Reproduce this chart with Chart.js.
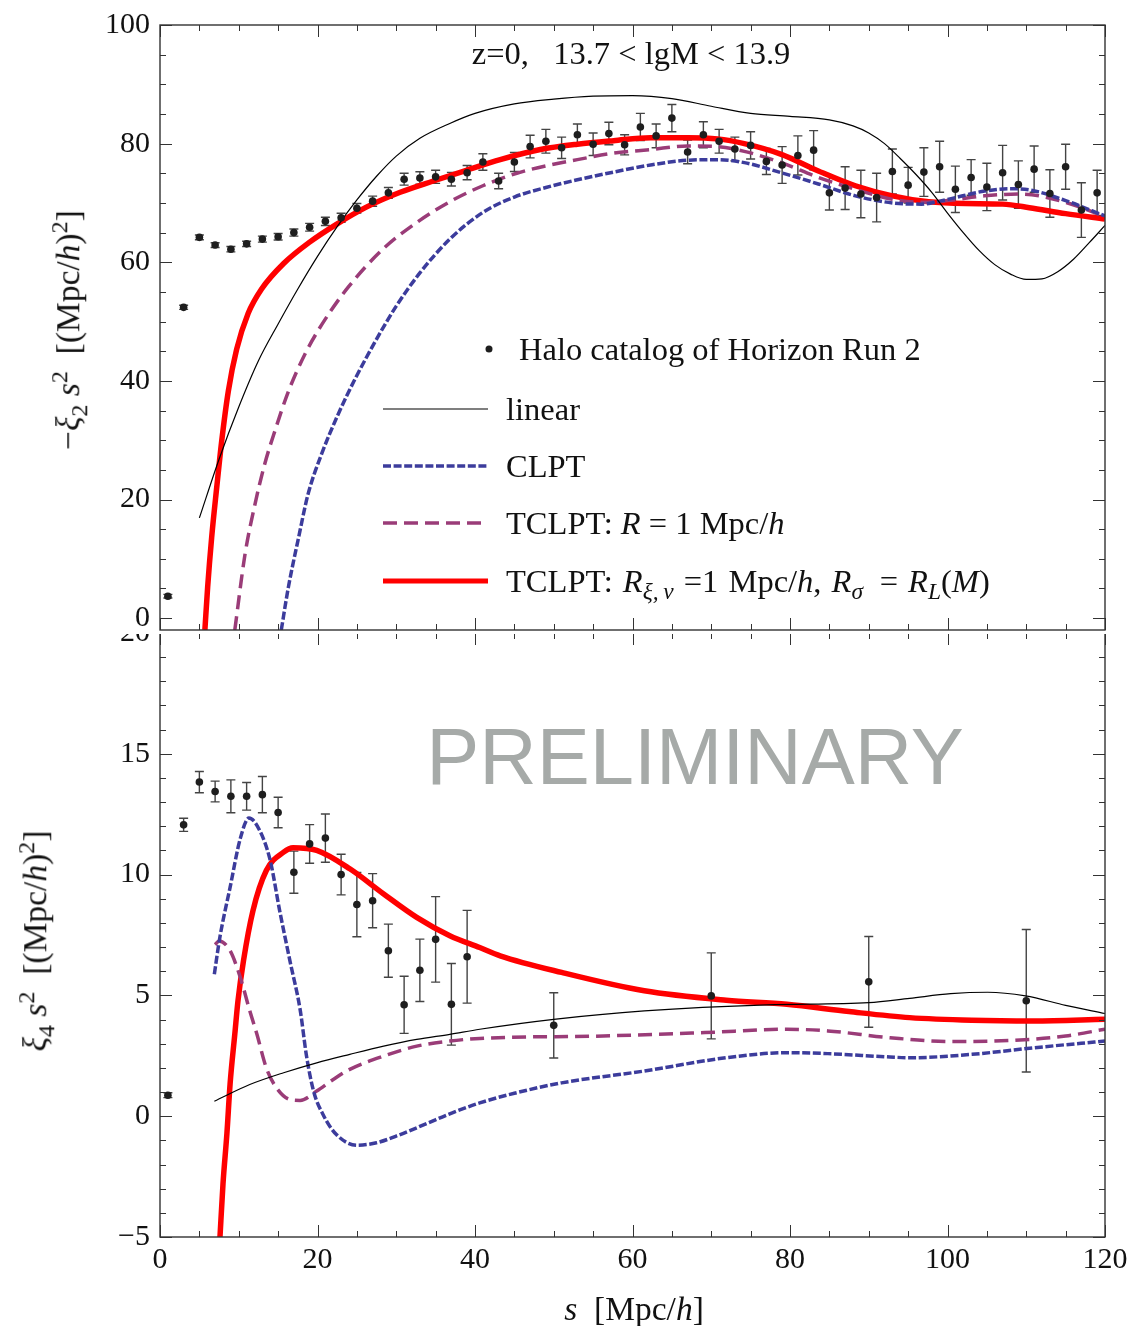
<!DOCTYPE html>
<html>
<head>
<meta charset="utf-8">
<script src="https://cdn.jsdelivr.net/npm/chart.js@4.4.1/dist/chart.umd.min.js"></script>
<style>
  body { margin: 0; background: #fff; }
  #wrap { position: relative; width: 1132px; height: 1326px; background: #fff; overflow: hidden;
          font-family: "Liberation Serif", "Times New Roman", serif; color: #111; }
  canvas { position: absolute; left: 0; }
  #topCanvas { top: 0; z-index: 2; background: #fff; }
  #botCanvas { top: 600px; z-index: 1; }
  .txt { position: absolute; white-space: nowrap; z-index: 3; line-height: 1; }
  .txt sub, .txt sup { font-size: 72%; line-height: 0; }
  .rot { transform: translate(-50%, -50%) rotate(-90deg); }
  .ctr { transform: translate(-50%, -50%); }
  .lft { transform: translateY(-50%); }
  .leg { font-size: 32.5px; }
  .ax { font-size: 33.5px; }
</style>
</head>
<body>
<div id="wrap">
  <canvas id="topCanvas" width="1132" height="634"></canvas>
  <canvas id="botCanvas" width="1132" height="726"></canvas>

  <div class="txt ctr" style="left:631px; top:53px; font-size:32.5px;">z=0,&nbsp;&nbsp;&nbsp;13.7 &lt; lgM &lt; 13.9</div>

  <div class="txt lft leg" style="left:519px; top:349px;">Halo catalog of Horizon Run 2</div>
  <div class="txt lft leg" style="left:506px; top:409px;">linear</div>
  <div class="txt lft leg" style="left:506px; top:466px;">CLPT</div>
  <div class="txt lft leg" style="left:506px; top:523px;">TCLPT: <i>R</i> = 1 Mpc/<i>h</i></div>
  <div class="txt lft leg" style="left:506px; top:581px; word-spacing:2px;">TCLPT: <i>R</i><sub><i>ξ,&thinsp;v</i></sub>&nbsp;=1 Mpc/<i>h</i>, <i>R</i><sub><i>σ</i></sub>&thinsp; = <i>R</i><sub><i>L</i></sub>(<i>M</i>)</div>

  <div class="txt ctr" style="left:695px; top:757px; font-size:79.5px; font-family:'Liberation Sans', Arial, sans-serif; color:#a6aaa8;">PRELIMINARY</div>

  <div class="txt rot ax" style="left:68px; top:330px;">−<i>ξ</i><sub>2</sub> <i>s</i><sup>2</sup>&nbsp;&nbsp;[(Mpc/<i>h</i>)<sup>2</sup>]</div>
  <div class="txt rot ax" style="left:35px; top:941px;"><i>ξ</i><sub>4</sub> <i>s</i><sup>2</sup>&nbsp;&nbsp;[(Mpc/<i>h</i>)<sup>2</sup>]</div>
  <div class="txt ctr ax" style="left:634px; top:1309px;"><i>s</i>&nbsp;&nbsp;[Mpc/<i>h</i>]</div>
</div>

<script>
// ---------- top panel: -xi_2 s^2 ----------
const sTop = [1, 3, 5, 7, 9, 11, 13, 15, 17, 19, 21, 23, 25, 27, 29, 31, 33, 35, 37, 39,
              41, 43, 45, 47, 49, 51, 53, 55, 57, 59, 61, 63, 65, 67, 69, 71, 73, 75, 77, 79,
              81, 83, 85, 87, 89, 91, 93, 95, 97, 99, 101, 103, 105, 107, 109, 111, 113, 115, 117, 119];
const haloTop = [3.7, 52.4, 64.2, 62.9, 62.2, 63.1, 63.9, 64.3, 65.0, 65.9, 66.9, 67.5, 69.1, 70.3, 71.7, 74.0, 74.2, 74.4, 74.0, 75.1,
                 76.9, 73.7, 76.9, 79.5, 80.4, 79.3, 81.5, 79.9, 81.7, 79.8, 82.8, 81.3, 84.3, 78.6, 81.5, 80.4, 79.1, 79.7, 77.0, 76.4,
                 78.0, 78.9, 71.7, 72.5, 71.5, 70.9, 75.3, 73.0, 75.2, 76.1, 72.3, 74.3, 72.7, 75.1, 73.1, 75.7, 71.6, 76.1, 68.8, 71.7];
const haloTopErr = [0.3, 0.35, 0.4, 0.4, 0.45, 0.45, 0.5, 0.55, 0.6, 0.65, 0.7, 0.75, 0.8, 0.85, 0.9, 1.0, 1.05, 1.1, 1.15, 1.2,
                    1.4, 1.3, 1.6, 1.9, 2.0, 1.8, 1.8, 1.9, 1.9, 1.7, 2.3, 2.0, 2.3, 2.0, 2.2, 2.0, 2.0, 2.3, 2.2, 3.1,
                    3.3, 3.3, 2.9, 3.6, 4.0, 4.1, 3.8, 3.0, 4.1, 4.3, 3.9, 3.0, 4.0, 4.6, 4.0, 3.9, 4.0, 3.8, 4.6, 3.8];

const linearTop = [[5, 16.9], [7.5, 26.8], [10, 35.6], [12.5, 43.4], [15, 49.6], [17.5, 55.5], [20, 61], [22.5, 66],
                   [25, 70.5], [27.5, 74.5], [30, 77.9], [33, 80.9], [36.8, 83.4], [40, 85.1], [45, 86.7], [50, 87.5],
                   [55, 88], [60, 88.1], [65, 87.6], [70, 86.3], [75, 85.1], [80, 84.6], [85, 84.0], [88, 83.0],
                   [90, 81.8], [92, 80.0], [94, 77.5], [96, 74.8], [98, 71.8], [100, 68.3], [102, 65.0], [104, 62.0],
                   [106, 59.6], [108, 58.0], [110, 57.1], [112, 57.2], [114, 58.4], [116, 60.5], [118, 63.3], [120, 66.2]];
const clptTop = [[15.4, -2], [16.3, 5.2], [17.6, 13.6], [18.8, 20.9], [20.5, 27.6], [22.6, 34.3], [24.8, 40.4],
                 [27.7, 47.5], [30, 52.6], [33, 58.2], [36.8, 63.9], [41, 68.4], [45, 71.0], [49, 72.6], [53, 73.9],
                 [57.6, 75.2], [62.3, 76.4], [67, 77.2], [70.8, 77.3], [74.2, 76.8], [78.9, 75.1], [83.6, 73.2],
                 [88.3, 71.2], [93, 70.0], [96.7, 69.8], [100, 70.6], [104.7, 72.0], [108, 72.4], [110.8, 72.1],
                 [115, 70.4], [120, 67.8]];
const tclptTop = [[9.5, -2], [10.8, 10.8], [12.06, 19.2], [13.3, 26.0], [14.6, 31.6], [16.3, 38.2], [18.4, 44.5],
                  [20.5, 49.4], [23.9, 55.8], [28.3, 62.2], [32.6, 66.7], [36.8, 70.2], [41, 72.9], [45.3, 75.0],
                  [49.5, 76.4], [53, 77.3], [57.6, 78.4], [62.3, 79.0], [67, 79.6], [70.8, 79.5], [74.2, 78.7],
                  [78.9, 76.8], [83.6, 74.3], [88.3, 72.3], [93, 70.6], [96.7, 70.1], [100, 70.4], [104.7, 71.2],
                  [109.3, 71.5], [115, 70.1], [120, 67.7]];
const tclptRLTop = [[5.7, -2], [6.05, 5.2], [6.56, 13.6], [7.2, 22], [7.83, 29.8], [8.68, 38.3], [9.73, 45.3],
                    [11.2, 51.4], [12.9, 55.5], [15.7, 59.8], [19, 63.4], [22.4, 66.4], [26.2, 69.3], [30.5, 71.8],
                    [34.7, 73.7], [38.9, 75.5], [43.2, 77.3], [48.3, 79.0], [53, 79.9], [57.6, 80.5], [62.3, 81.0],
                    [67, 81.0], [70.8, 80.8], [74.2, 80.0], [78.9, 78.2], [83.6, 75.4], [88.3, 72.9], [93, 71.2],
                    [97.6, 70.2], [102.3, 69.9], [107, 69.8], [110.4, 69.2], [115, 68.2], [120, 67.3]];

// ---------- bottom panel: xi_4 s^2 ----------
const sBot = [1, 3, 5, 7, 9, 11, 13, 15, 17, 19, 21, 23, 25, 27, 29, 31, 33, 35, 37, 39, 50, 70, 90, 110];
const haloBot = [0.87, 12.06, 13.83, 13.44, 13.24, 13.24, 13.31, 12.57, 10.10, 11.27, 11.51, 10.0, 8.76, 8.92,
                 6.85, 4.61, 6.04, 7.32, 4.63, 6.60, 3.76, 4.98, 5.56, 4.78];
const haloBotErr = [0.1, 0.27, 0.44, 0.43, 0.68, 0.57, 0.75, 0.63, 0.87, 0.8, 1.0, 0.84, 1.33, 1.12,
                    1.1, 1.18, 1.29, 1.77, 1.69, 1.92, 1.35, 1.78, 1.88, 2.95];

const linearBot = [[6.9, 0.62], [11.4, 1.31], [15.7, 1.8], [19.9, 2.21], [24.1, 2.56], [28.4, 2.9], [32.6, 3.18],
                   [36.8, 3.39], [40.6, 3.6], [50, 4.01], [61.5, 4.36], [77.1, 4.61], [90, 4.70], [95.2, 4.88],
                   [100.4, 5.07], [105.1, 5.13], [109.9, 4.98], [115, 4.59], [120, 4.25]];
const clptBot = [[6.9, 5.88], [7.6, 7.4], [8.9, 9.47], [10.2, 11.5], [11.3, 12.34], [12.7, 11.8], [14, 10.58],
                 [15.2, 8.5], [16.5, 6.43], [17.8, 4.4], [18.6, 2.5], [19.5, 1.04], [20.7, 0.07], [22.4, -0.76],
                 [25, -1.2], [27.5, -1.1], [30.5, -0.76], [33.9, -0.3], [36.8, 0.1], [40.6, 0.55], [45, 0.95], [51, 1.38],
                 [61.5, 1.87], [71.9, 2.42], [79.6, 2.63], [84.8, 2.59], [92.7, 2.45], [95.2, 2.42], [103.1, 2.56],
                 [110.9, 2.83], [120, 3.11]];
const tclptBot = [[7.0, 7.1], [7.5, 7.25], [8.9, 6.85], [10.2, 5.74], [11.4, 4.36], [12.3, 3.4], [13.5, 2.0],
                  [14.8, 1.17], [16.5, 0.69], [17.8, 0.65], [19.9, 1.04], [22, 1.52], [24.1, 1.94], [28.4, 2.49],
                  [32.6, 2.9], [36.8, 3.11], [40.6, 3.22], [56.3, 3.32], [69.2, 3.46], [79.6, 3.6], [84.8, 3.53],
                  [92.7, 3.25], [100.4, 3.09], [108.3, 3.14], [115, 3.32], [120, 3.6]];
const tclptRLBot = [[7.6, -5.1], [8.0, -2.8], [8.5, -0.7], [8.9, 1.33], [9.5, 3.4], [9.9, 4.77], [10.6, 6.43],
                    [11.8, 8.5], [13.5, 10.17], [15.7, 10.93], [16.9, 11.11], [19.9, 11.0], [24.1, 10.24], [28.4, 9.2],
                    [32.6, 8.23], [36.8, 7.47], [40.6, 6.98], [43.2, 6.64], [51, 5.95], [61.5, 5.19], [71.9, 4.8],
                    [79.6, 4.63], [87.5, 4.33], [95.2, 4.08], [103.1, 3.97], [110.9, 3.94], [120, 4.01]];

const xTickLabels = [0, 20, 40, 60, 80, 100, 120];
const yTickTop = [0, 20, 40, 60, 80, 100];
const yTickBot = [-5, 0, 5, 10, 15, 20];

const C_BLUE = '#3c3c9c';
const C_PURPLE = '#9a3c78';
const C_RED = '#ff0000';
const TICK_FONT = { family: 'Liberation Serif', size: 30 };

function curve(label, pairs, color, width, dash) {
    return {
        label: label,
        data: pairs.map(p => ({ x: p[0], y: p[1] })),
        borderColor: color,
        borderWidth: width,
        borderDash: dash,
        pointRadius: 0,
        fill: false,
        cubicInterpolationMode: 'monotone',
        clip: 0,
        order: 2
    };
}

function halo(s, v, err) {
    return {
        label: 'Halo catalog of Horizon Run 2',
        data: s.map((x, i) => ({ x: x, y: v[i], err: err[i] })),
        showLine: false,
        pointRadius: 3.8,
        pointBackgroundColor: '#1e1e1e',
        pointBorderWidth: 0,
        order: 1
    };
}

// error bars, drawn from the dataset's own points and y scale
const errorBars = {
    id: 'errorBars',
    beforeDatasetsDraw(chart) {
        const ctx = chart.ctx;
        const y = chart.scales.y;
        chart.data.datasets.forEach((ds, di) => {
            if (ds.showLine !== false) return;
            const meta = chart.getDatasetMeta(di);
            ctx.save();
            ctx.strokeStyle = '#444';
            ctx.lineWidth = 1.4;
            meta.data.forEach((pt, i) => {
                const d = ds.data[i];
                const y1 = y.getPixelForValue(d.y - d.err);
                const y2 = y.getPixelForValue(d.y + d.err);
                ctx.beginPath();
                ctx.moveTo(pt.x, y1); ctx.lineTo(pt.x, y2);
                ctx.moveTo(pt.x - 4.5, y1); ctx.lineTo(pt.x + 4.5, y1);
                ctx.moveTo(pt.x - 4.5, y2); ctx.lineTo(pt.x + 4.5, y2);
                ctx.stroke();
            });
            ctx.restore();
        });
    }
};

// frame with inward ticks on all four sides
const frameTicks = {
    id: 'frameTicks',
    afterDatasetsDraw(chart, args, opts) {
        const { ctx, chartArea: a, scales: { x, y } } = chart;
        ctx.save();
        ctx.strokeStyle = '#333';
        ctx.lineWidth = 1;
        ctx.beginPath();
        for (let v = 0; v <= 120; v += 5) {
            const px = Math.round(x.getPixelForValue(v)) + 0.5;
            const len = v % 20 === 0 ? 12 : 6;
            ctx.moveTo(px, a.bottom); ctx.lineTo(px, a.bottom - len);
            ctx.moveTo(px, a.top); ctx.lineTo(px, a.top + len);
        }
        const start = Math.ceil(y.min / opts.minor) * opts.minor;
        for (let v = start; v <= y.max; v += opts.minor) {
            const py = Math.round(y.getPixelForValue(v)) + 0.5;
            const len = v % opts.major === 0 ? 12 : 6;
            ctx.moveTo(a.left, py); ctx.lineTo(a.left + len, py);
            ctx.moveTo(a.right, py); ctx.lineTo(a.right - len, py);
        }
        ctx.stroke();
        ctx.lineWidth = 1.4;
        ctx.strokeRect(a.left, a.top, a.right - a.left, a.bottom - a.top);
        ctx.restore();
    }
};

// legend keys in the top panel
const legendKeys = {
    id: 'legendKeys',
    afterDraw(chart) {
        const ctx = chart.ctx;
        ctx.save();
        ctx.fillStyle = '#1e1e1e';
        ctx.beginPath();
        ctx.arc(489, 349, 3.5, 0, Math.PI * 2);
        ctx.fill();
        const keys = [
            [409, '#000', 1.2, []],
            [466, C_BLUE, 3.5, [8, 2.6]],
            [523, C_PURPLE, 3.5, [14, 7]],
            [581, C_RED, 5, []]
        ];
        keys.forEach(k => {
            ctx.strokeStyle = k[1];
            ctx.lineWidth = k[2];
            ctx.setLineDash(k[3]);
            ctx.beginPath();
            ctx.moveTo(383, k[0]);
            ctx.lineTo(488, k[0]);
            ctx.stroke();
        });
        ctx.restore();
    }
};

function makeChart(canvasId, datasets, yMin, yMax, yTicks, cfg) {
    const ctx = document.getElementById(canvasId).getContext('2d');
    return new Chart(ctx, {
        type: 'line',
        data: { datasets: datasets },
        options: {
            responsive: false,
            animation: false,
            devicePixelRatio: 1,
            layout: { padding: cfg.padding },
            plugins: {
                legend: { display: false },
                tooltip: { enabled: false },
                frameTicks: cfg.ticks
            },
            scales: {
                x: {
                    type: 'linear',
                    min: 0,
                    max: 120,
                    grid: { display: false, drawTicks: false },
                    border: { display: false },
                    afterBuildTicks: scale => { scale.ticks = xTickLabels.map(v => ({ value: v })); },
                    afterFit: scale => { scale.height = cfg.xHeight; scale.paddingLeft = 0; scale.paddingRight = 0; },
                    ticks: { display: cfg.xLabels, color: '#111', font: TICK_FONT, padding: 5, maxRotation: 0 }
                },
                y: {
                    type: 'linear',
                    min: yMin,
                    max: yMax,
                    grid: { display: false, drawTicks: false },
                    border: { display: false },
                    afterBuildTicks: scale => { scale.ticks = yTicks.map(v => ({ value: v })); },
                    afterFit: scale => { scale.width = 160; scale.paddingTop = 0; scale.paddingBottom = 0; },
                    ticks: {
                        color: '#111',
                        font: TICK_FONT,
                        padding: 10,
                        callback: v => (v < 0 ? '\u2212' + Math.abs(v) : String(v))
                    }
                }
            }
        },
        plugins: cfg.plugins
    });
}

makeChart('topCanvas', [
    halo(sTop, haloTop, haloTopErr),
    curve('linear', linearTop, '#000', 1.2, []),
    curve('CLPT', clptTop, C_BLUE, 3.5, [8, 2.6]),
    curve('TCLPT: R = 1 Mpc/h', tclptTop, C_PURPLE, 3.5, [14, 7]),
    curve('TCLPT: R_xi,v = 1 Mpc/h, R_sigma = R_L(M)', tclptRLTop, C_RED, 5.5, [])
], -2, 100, yTickTop, {
    padding: { top: 25, right: 27, bottom: 1, left: 0 },
    xHeight: 0,
    xLabels: false,
    ticks: { minor: 5, major: 20 },
    plugins: [errorBars, frameTicks, legendKeys]
});

makeChart('botCanvas', [
    halo(sBot, haloBot, haloBotErr),
    curve('linear', linearBot, '#000', 1.2, []),
    curve('CLPT', clptBot, C_BLUE, 3.5, [8, 2.6]),
    curve('TCLPT: R = 1 Mpc/h', tclptBot, C_PURPLE, 3.5, [14, 7]),
    curve('TCLPT: R_xi,v = 1 Mpc/h, R_sigma = R_L(M)', tclptRLBot, C_RED, 5.5, [])
], -5, 20, yTickBot, {
    padding: { top: 33, right: 27, bottom: 0, left: 0 },
    xHeight: 89,
    xLabels: true,
    ticks: { minor: 1, major: 5 },
    plugins: [errorBars, frameTicks]
});
</script>
</body>
</html>
